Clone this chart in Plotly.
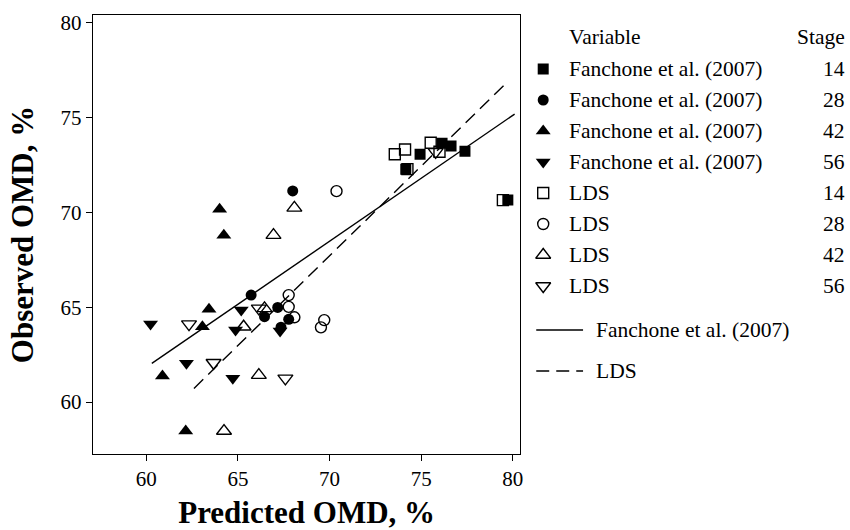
import plotly.graph_objects as go

# ---------------- data ----------------
f14_x = [74.16, 74.94, 76.14, 76.63, 77.39, 79.73]
f14_y = [72.28, 73.07, 73.65, 73.50, 73.23, 70.65]
f28_x = [67.99, 65.72, 67.17, 66.45, 67.77, 67.35]
f28_y = [71.13, 65.64, 64.99, 64.50, 64.36, 63.95]
f42_x = [64.00, 64.23, 63.42, 63.06, 60.88, 62.15]
f42_y = [70.16, 68.80, 64.89, 63.97, 61.37, 58.47]
f56_x = [60.23, 65.18, 64.87, 62.19, 64.72, 67.30]
f56_y = [64.11, 64.85, 63.80, 62.04, 61.25, 63.75]
l14_x = [73.56, 74.12, 74.25, 75.52, 76.00, 79.46]
l14_y = [73.07, 73.32, 72.28, 73.67, 73.20, 70.65]
l28_x = [70.38, 67.77, 67.77, 68.08, 69.71, 69.53]
l28_y = [71.12, 65.64, 65.02, 64.47, 64.32, 63.94]
l42_x = [68.08, 66.94, 66.45, 65.31, 66.14, 64.24]
l42_y = [70.24, 68.80, 64.94, 63.97, 61.42, 58.47]
l56_x = [62.33, 63.67, 66.14, 67.59, 75.79]
l56_y = [64.11, 62.07, 64.94, 61.25, 73.19]

# regression lines: y = a + b*x over an x range
fanchone_fit = {"a": 22.0, "b": 0.664, "x": [60.3, 80.1]}
lds_fit = {"a": 1.56, "b": 0.945, "x": [62.6, 79.5]}

variables = ["Fanchone et al. (2007)"] * 4 + ["LDS"] * 4
stages = ["14", "28", "42", "56", "14", "28", "42", "56"]
line_labels = ["Fanchone et al. (2007)", "LDS"]

x_ticks = [60, 65, 70, 75, 80]
y_ticks = [60, 65, 70, 75, 80]

# ---------------- styling ----------------
FONT = "Liberation Serif"
LEG_SIZE = 21.5
TICK_SIZE = 21
TITLE_SIZE = 31
symbols = ["square", "circle", "triangle-up", "triangle-down",
           "square-open", "circle-open", "triangle-up-open", "triangle-down-open"]
sizes = [11, 11, 13, 13, 11, 11, 13, 13]
series = [(f14_x, f14_y), (f28_x, f28_y), (f42_x, f42_y), (f56_x, f56_y),
          (l14_x, l14_y), (l28_x, l28_y), (l42_x, l42_y), (l56_x, l56_y)]

W, H = 850, 530
ml, mr, mt = 93, 0, 15
mb = H - 454
plot_w = W - ml - mr
main_right = 522
d_main = (main_right - ml) / plot_w
d_leg = 0.575
leg_left_px = ml + d_leg * plot_w

fig = go.Figure()

# regression lines
DASH = "13px,7px"
for fit, dash in [(fanchone_fit, "solid"), (lds_fit, DASH)]:
    xs = fit["x"]
    ys = [fit["a"] + fit["b"] * v for v in xs]
    fig.add_trace(go.Scatter(x=xs, y=ys, mode="lines",
                             line=dict(color="black", width=1.4, dash=dash),
                             showlegend=False, hoverinfo="skip"))

def marker_style(i):
    return dict(symbol=symbols[i], size=sizes[i], color="black",
                line=dict(color="black", width=1.4 if "open" in symbols[i] else 0))

for i, (xs, ys) in enumerate(series):
    fig.add_trace(go.Scatter(x=xs, y=ys, mode="markers", marker=marker_style(i),
                             name=f"{variables[i]} {stages[i]}", showlegend=False))

# ---------------- manual legend (figure-pixel coordinates on x2/y2) ----------------
row0, row_step = 69, 31
marker_x, text_x, stage_x = 545, 569, 849.5
header_y = 37
legfont = dict(family=FONT, size=LEG_SIZE, color="black")
for i in range(8):
    y = row0 + i * row_step
    fig.add_trace(go.Scatter(x=[marker_x], y=[y], mode="markers", marker=marker_style(i),
                             xaxis="x2", yaxis="y2", showlegend=False, hoverinfo="skip"))
    fig.add_annotation(x=text_x, y=y, xref="x2", yref="y2", text=variables[i],
                       showarrow=False, xanchor="left", yanchor="middle", font=legfont)
    fig.add_annotation(x=stage_x, y=y, xref="x2", yref="y2", text=stages[i],
                       showarrow=False, xanchor="right", yanchor="middle", font=legfont)
fig.add_annotation(x=text_x, y=header_y, xref="x2", yref="y2", text="Variable",
                   showarrow=False, xanchor="left", yanchor="middle", font=legfont)
fig.add_annotation(x=stage_x, y=header_y, xref="x2", yref="y2", text="Stage",
                   showarrow=False, xanchor="right", yanchor="middle", font=legfont)

line_rows = [330, 371]
for j, (lab, dash) in enumerate(zip(line_labels, ["solid", DASH])):
    y = line_rows[j]
    fig.add_trace(go.Scatter(x=[538, 585], y=[y, y], mode="lines",
                             line=dict(color="black", width=1.4, dash=dash),
                             xaxis="x2", yaxis="y2", showlegend=False, hoverinfo="skip"))
    fig.add_annotation(x=596, y=y, xref="x2", yref="y2", text=lab,
                       showarrow=False, xanchor="left", yanchor="middle", font=legfont)

axis_common = dict(showline=True, linecolor="black", linewidth=1.4, mirror=True,
                   ticks="outside", ticklen=6, tickwidth=1.4, tickcolor="black",
                   showgrid=False, zeroline=False,
                   tickfont=dict(family=FONT, size=TICK_SIZE, color="black"))

fig.update_layout(
    width=W, height=H,
    margin=dict(l=ml, r=mr, t=mt, b=mb),
    paper_bgcolor="white", plot_bgcolor="white",
    showlegend=False,
    xaxis=dict(domain=[0, d_main], range=[57.09, 80.41], tickvals=x_ticks,
               title=dict(text="Predicted OMD, %", standoff=10,
                          font=dict(family=FONT, size=TITLE_SIZE, color="black", weight="bold")),
               **axis_common),
    yaxis=dict(range=[57.26, 80.41], tickvals=y_ticks,
               title=dict(text="Observed OMD, %", standoff=17,
                          font=dict(family=FONT, size=TITLE_SIZE, color="black", weight="bold")),
               **axis_common),
    xaxis2=dict(domain=[d_leg, 1], range=[leg_left_px, W - mr], visible=False,
                anchor="y2", fixedrange=True),
    yaxis2=dict(domain=[0, 1], range=[H - mb, mt], visible=False,
                anchor="x2", fixedrange=True),
)

# remove the default page margin so the 850x530 figure fills the window exactly
fig.write_html("out.html", config={"displayModeBar": False},
               post_script="document.body.style.margin='0';"
                           "document.body.style.overflow='hidden';")
